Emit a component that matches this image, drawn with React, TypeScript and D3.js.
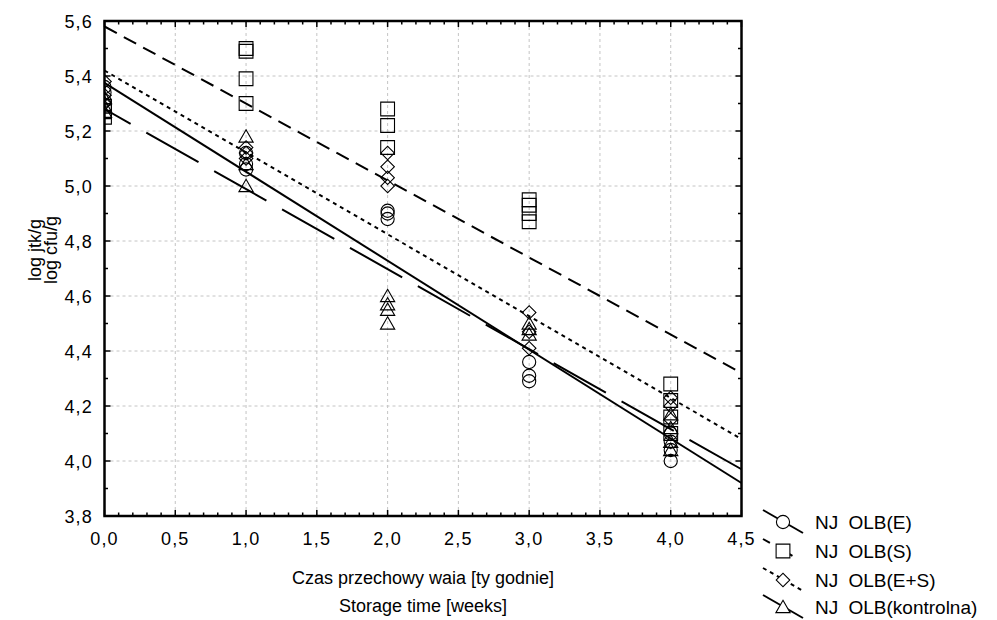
import React from "react";
import * as d3 from "d3";

// ---- data ----
const xTicks = [0, 0.5, 1, 1.5, 2, 2.5, 3, 3.5, 4, 4.5];
const yTicks = [3.8, 4.0, 4.2, 4.4, 4.6, 4.8, 5.0, 5.2, 5.4, 5.6];

// [week, log cfu/g]
const olbE: [number, number][] = [
  [0, 5.36], [0, 5.34], [0, 5.31],
  [1, 5.12], [1, 5.08], [1, 5.06],
  [2, 4.91], [2, 4.9], [2, 4.88],
  [3, 4.36], [3, 4.31], [3, 4.29],
  [4, 4.1], [4, 4.07], [4, 4.04], [4, 4.0],
];
const olbS: [number, number][] = [
  [0, 5.29], [0, 5.27], [0, 5.25],
  [1, 5.5], [1, 5.49], [1, 5.39], [1, 5.3],
  [2, 5.28], [2, 5.22], [2, 5.14],
  [3, 4.95], [3, 4.93], [3, 4.9], [3, 4.87],
  [4, 4.28], [4, 4.22], [4, 4.16], [4, 4.1],
];
const olbES: [number, number][] = [
  [0, 5.38], [0, 5.33], [0, 5.3],
  [1, 5.14], [1, 5.12], [1, 5.1],
  [2, 5.12], [2, 5.07], [2, 5.03], [2, 5.0],
  [3, 4.54], [3, 4.47], [3, 4.41],
  [4, 4.23], [4, 4.2], [4, 4.15],
];
const olbK: [number, number][] = [
  [0, 5.32], [0, 5.29], [0, 5.27],
  [1, 5.18], [1, 5.08], [1, 5.0],
  [2, 4.6], [2, 4.57], [2, 4.55], [2, 4.5],
  [3, 4.5], [3, 4.48], [3, 4.46],
  [4, 4.17], [4, 4.12], [4, 4.07], [4, 4.04],
];

const seriesNames = ["NJ OLB(E)", "NJ OLB(S)", "NJ OLB(E+S)", "NJ OLB(kontrolna)"];
// fitted lines: value at week 0 and value at week 4.5
const lineStart = [5.375, 5.58, 5.42, 5.28];
const lineEnd = [3.92, 4.32, 4.08, 3.97];

const seriesData = [olbE, olbS, olbES, olbK];
const seriesSymbol = ["circle", "square", "diamond", "triangle"];
const seriesDash = ["none", "14,8", "4,4", "60,18"];
const seriesDashOffset = [0, 0, 0, 30];

// ---- layout ----
const W = 997;
const H = 620;
const left = 104.5;
const right = 741.5;
const top = 21;
const bottom = 516;

const FONT = "'Liberation Sans', Arial, Helvetica, sans-serif";

const x = d3.scaleLinear().domain([0, 4.5]).range([left, right]);
const y = d3.scaleLinear().domain([3.8, 5.6]).range([bottom, top]);
const fmt = (v: number) => d3.format(".1f")(v).replace(".", ",");

function symbolPath(kind: string): string {
  const gen = d3.symbol();
  if (kind === "circle") return gen.type(d3.symbolCircle).size(136)() as string;
  if (kind === "square") return gen.type(d3.symbolSquare).size(190)() as string;
  if (kind === "diamond") return gen.type(d3.symbolSquare).size(92)() as string;
  return gen.type(d3.symbolTriangle).size(88)() as string;
}

function Marker({ kind, cx, cy, fill }: { kind: string; cx: number; cy: number; fill: string }) {
  const rot = kind === "diamond" ? " rotate(45)" : "";
  const dy = kind === "triangle" ? 1.5 : 0;
  return (
    <path
      d={symbolPath(kind)}
      transform={`translate(${cx},${cy + dy})${rot}`}
      fill={fill}
      stroke="#000"
      strokeWidth={1.1}
    />
  );
}

export default function App() {
  const minorX = d3.range(0, 4.5001, 0.1);
  const minorY = d3.range(3.8, 5.6001, 0.1);
  const line = d3
    .line<[number, number]>()
    .x((d) => x(d[0]))
    .y((d) => y(d[1]));

  const legendX = 783;
  const legendRows = [522, 551, 580, 607];

  return (
    <svg
      width={W}
      height={H}
      style={{ position: "absolute", left: 0, top: 0, background: "#fff" }}
      fontFamily={FONT}
    >
      <defs>
        <clipPath id="plotclip">
          <rect x={left} y={top} width={right - left} height={bottom - top} />
        </clipPath>
      </defs>
      <rect x={0} y={0} width={W} height={H} fill="#fff" />

      {/* grid */}
      <g stroke="#c4c4c4" strokeWidth={1} strokeDasharray="3,3">
        {xTicks.slice(1, -1).map((t) => (
          <line key={"gx" + t} x1={x(t)} x2={x(t)} y1={top} y2={bottom} />
        ))}
        {yTicks.slice(1, -1).map((t) => (
          <line key={"gy" + t} x1={left} x2={right} y1={y(t)} y2={y(t)} />
        ))}
      </g>

      {/* regression lines */}
      <g clipPath="url(#plotclip)">
        {seriesData.map((_, i) => (
          <path
            key={"l" + i}
            d={line([
              [0, lineStart[i]],
              [4.5, lineEnd[i]],
            ]) as string}
            fill="none"
            stroke="#000"
            strokeWidth={2}
            strokeDasharray={seriesDash[i]}
            strokeDashoffset={seriesDashOffset[i]}
          />
        ))}
      </g>

      {/* markers */}
      <g clipPath="url(#plotclip)">
        {seriesData.map((data, i) =>
          data.map((d, j) => (
            <Marker key={`m${i}-${j}`} kind={seriesSymbol[i]} cx={x(d[0])} cy={y(d[1])} fill="none" />
          ))
        )}
      </g>

      {/* ticks */}
      <g stroke="#000" strokeWidth={1.5}>
        {minorX.map((t, i) => {
          const len = i % 5 === 0 ? 6 : 3.5;
          return (
            <g key={"tx" + i}>
              <line x1={x(t)} x2={x(t)} y1={bottom} y2={bottom - len} />
              <line x1={x(t)} x2={x(t)} y1={top} y2={top + len} />
            </g>
          );
        })}
        {minorY.map((t, i) => {
          const len = i % 2 === 0 ? 6 : 3.5;
          return (
            <g key={"ty" + i}>
              <line x1={left} x2={left + len} y1={y(t)} y2={y(t)} />
              <line x1={right} x2={right - len} y1={y(t)} y2={y(t)} />
            </g>
          );
        })}
      </g>

      {/* frame */}
      <rect x={left} y={top} width={right - left} height={bottom - top} fill="none" stroke="#000" strokeWidth={2.5} />

      {/* tick labels */}
      <g fontSize={18} fill="#000" letterSpacing={1.2}>
        {xTicks.map((t) => (
          <text key={"xl" + t} x={x(t)} y={545} textAnchor="middle">
            {fmt(t)}
          </text>
        ))}
        {yTicks.map((t) => (
          <text key={"yl" + t} x={93} y={y(t) + 6.5} textAnchor="end">
            {fmt(t)}
          </text>
        ))}
      </g>

      {/* axis titles */}
      <g fontSize={18} fill="#000" textAnchor="middle">
        <text x={(left + right) / 2} y={584}>Czas przechowy waia [ty godnie]</text>
        <text x={(left + right) / 2} y={612}>Storage time [weeks]</text>
      </g>
      <g fontSize={18} fill="#000" textAnchor="middle">
        <text transform={`translate(41,250) rotate(-90)`}>log jtk/g</text>
        <text transform={`translate(57,250) rotate(-90)`}>log cfu/g</text>
      </g>

      {/* legend */}
      <g>
        {seriesNames.map((name, i) => {
          const cy = legendRows[i];
          return (
            <g key={"lg" + i}>
              <line
                x1={legendX - 20}
                y1={cy - 12}
                x2={legendX + 20}
                y2={cy + 11}
                stroke="#000"
                strokeWidth={2}
                strokeDasharray={i === 1 ? "8,18" : i === 2 ? "4,4" : "none"}
              />
              <Marker kind={seriesSymbol[i]} cx={legendX} cy={cy} fill="#fff" />
              <text x={815} y={cy + 7} fontSize={19} wordSpacing={5}>
                {name}
              </text>
            </g>
          );
        })}
      </g>
    </svg>
  );
}
